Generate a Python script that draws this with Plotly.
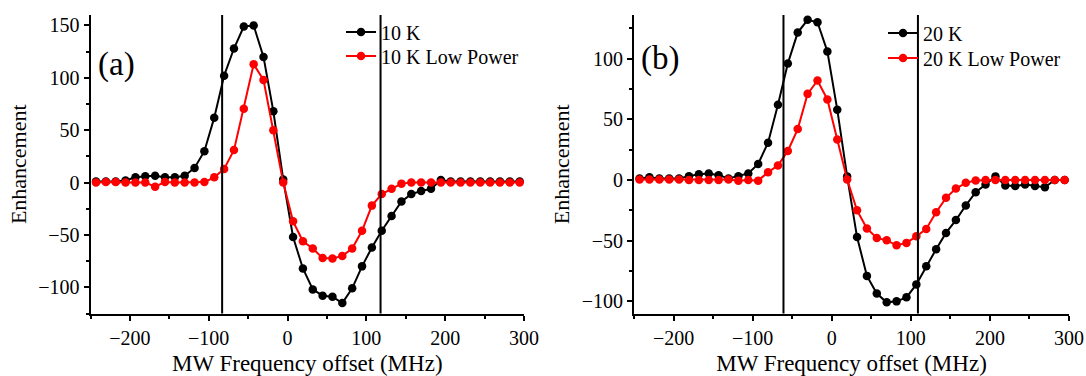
import plotly.graph_objects as go

# Microwave frequency offset (MHz) shared by all sweeps
freq = [-243.0, -230.5, -218.0, -205.5, -193.0, -180.5, -168.0, -155.5, -143.0, -130.5,
        -118.0, -105.5, -93.0, -80.5, -68.0, -55.5, -43.0, -30.5, -18.0, -5.5,
        7.0, 19.5, 32.0, 44.5, 57.0, 69.5, 82.0, 94.5, 107.0, 119.5,
        132.0, 144.5, 157.0, 169.5, 182.0, 194.5, 207.0, 219.5, 232.0, 244.5,
        257.0, 269.5, 282.0, 294.5]

# DNP enhancement profiles at 10 K
enh_10k = [1, 1, 1, 2, 5, 6, 6.5, 5, 5, 6.5,
           14, 30, 62, 102, 128, 149, 150, 120, 68, 3,
           -52, -82, -102, -108, -109, -115, -101, -80, -62, -46,
           -32, -18, -11, -8, -6, 2.5, 1, 1, 1, 1,
           1, 1, 1, 1]
enh_10k_low = [0, 0.5, 0.5, 0, 0, 0, -4, 0.5, 0, 0,
               0, 0.5, 5, 13, 31, 70.5, 113, 98, 50, 0,
               -37, -56, -63, -72, -72.5, -70, -63, -46, -22, -11,
               -6, -1, 0, 0, 0, 0, 0, 0, 0, 0,
               0, 0, 0, 0]

# DNP enhancement profiles at 20 K
enh_20k = [1.2, 2.3, 1.2, 1.2, 1.2, 3.2, 4.8, 5.4, 4, 1.2,
           3.2, 5.4, 13.3, 30.7, 62, 96, 121.5, 132, 130, 106,
           58, 3, -47, -79, -93.6, -100.8, -100, -96.7, -86, -71,
           -57, -43.6, -33, -21, -10, -3.7, 3, -4.5, -5, -3.7,
           -5, -6, 0, 0]
enh_20k_low = [0.5, 0.5, 0.5, 0.5, 0.5, 0, 0, 0, 0, 0.5,
               -0.5, 0, -0.5, 6.5, 12, 24, 42, 71, 82, 66.4,
               33.4, 0.4, -25, -40, -47.7, -49.7, -53.8, -51.8, -46.4, -40.3,
               -26.5, -14.7, -7, -2.3, -0.4, 0, 0, 0, 0, 0,
               0, 0, 0, 0]

# Marker positions (MHz) of the vertical guide lines
guides_a = [-83, 118]
guides_b = [-61, 109]

FONT = "Liberation Serif, Times New Roman, serif"
W, H = 1086, 376

fig = go.Figure()

def add_series(x, y, name, color, xa, ya, legend):
    fig.add_trace(go.Scatter(
        x=x, y=y, name=name, mode="lines+markers",
        line=dict(color=color, width=2),
        marker=dict(color=color, size=8.5),
        xaxis=xa, yaxis=ya, legend=legend,
    ))

add_series(freq, enh_10k, "10 K", "#000000", "x", "y", "legend")
add_series(freq, enh_10k_low, "10 K Low Power", "#ff0000", "x", "y", "legend2")
add_series(freq, enh_20k, "20 K", "#000000", "x2", "y2", "legend3")
add_series(freq, enh_20k_low, "20 K Low Power", "#ff0000", "x2", "y2", "legend4")

for g in guides_a:
    fig.add_shape(type="line", x0=g, x1=g, y0=0, y1=1, xref="x", yref="y domain",
                  line=dict(color="black", width=2))
for g in guides_b:
    fig.add_shape(type="line", x0=g, x1=g, y0=0, y1=1, xref="x2", yref="y2 domain",
                  line=dict(color="black", width=2))

ydom = [1 - 313.5 / H, 1 - 15 / H]

common_x = dict(
    showgrid=False, zeroline=False, showline=True, linecolor="black", linewidth=2,
    ticks="outside", ticklen=5, tickwidth=2, tickcolor="black", dtick=100, tick0=0,
    minor=dict(ticks="outside", dtick=50, ticklen=3, tickwidth=2, tickcolor="black"),
    tickfont=dict(size=20),
    title=dict(text="MW Frequency offset (MHz)", font=dict(size=23), standoff=7),
    automargin=False,
)
common_y = dict(
    showgrid=False, zeroline=False, showline=True, linecolor="black", linewidth=2,
    ticks="outside", ticklen=5, tickwidth=2, tickcolor="black", dtick=50, tick0=0,
    minor=dict(ticks="outside", dtick=25, ticklen=3, tickwidth=2, tickcolor="black"),
    tickfont=dict(size=20),
    title=dict(text="Enhancement", font=dict(size=22), standoff=6),
    automargin=False,
)

def legend_at(x_px, yc_px):
    # one entry per legend box so each row sits at its own height
    return dict(x=x_px / W, y=1 - yc_px / H, xanchor="left", yanchor="middle",
                bgcolor="rgba(0,0,0,0)", font=dict(size=20))

fig.update_layout(
    width=W, height=H,
    margin=dict(l=0, r=0, t=0, b=0),
    font=dict(family=FONT, color="black"),
    paper_bgcolor="white", plot_bgcolor="white",
    showlegend=True,
    xaxis=dict(common_x, domain=[90.5 / W, 524 / W], range=[-250, 300], anchor="y"),
    yaxis=dict(common_y, domain=ydom, range=[-125, 160], anchor="x"),
    xaxis2=dict(common_x, domain=[634 / W, 1069 / W], range=[-250, 300], anchor="y2"),
    yaxis2=dict(common_y, domain=ydom, range=[-110, 136], anchor="x2"),
    legend=legend_at(341, 32),
    legend2=legend_at(341, 56),
    legend3=legend_at(883, 33),
    legend4=legend_at(883, 58),
    annotations=[
        dict(text="(a)", x=96 / W, y=1 - 44 / H, xref="paper", yref="paper",
             xanchor="left", showarrow=False, font=dict(size=33)),
        dict(text="(b)", x=639 / W, y=1 - 38 / H, xref="paper", yref="paper",
             xanchor="left", showarrow=False, font=dict(size=33)),
    ],
)

fig.write_html("out.html")
